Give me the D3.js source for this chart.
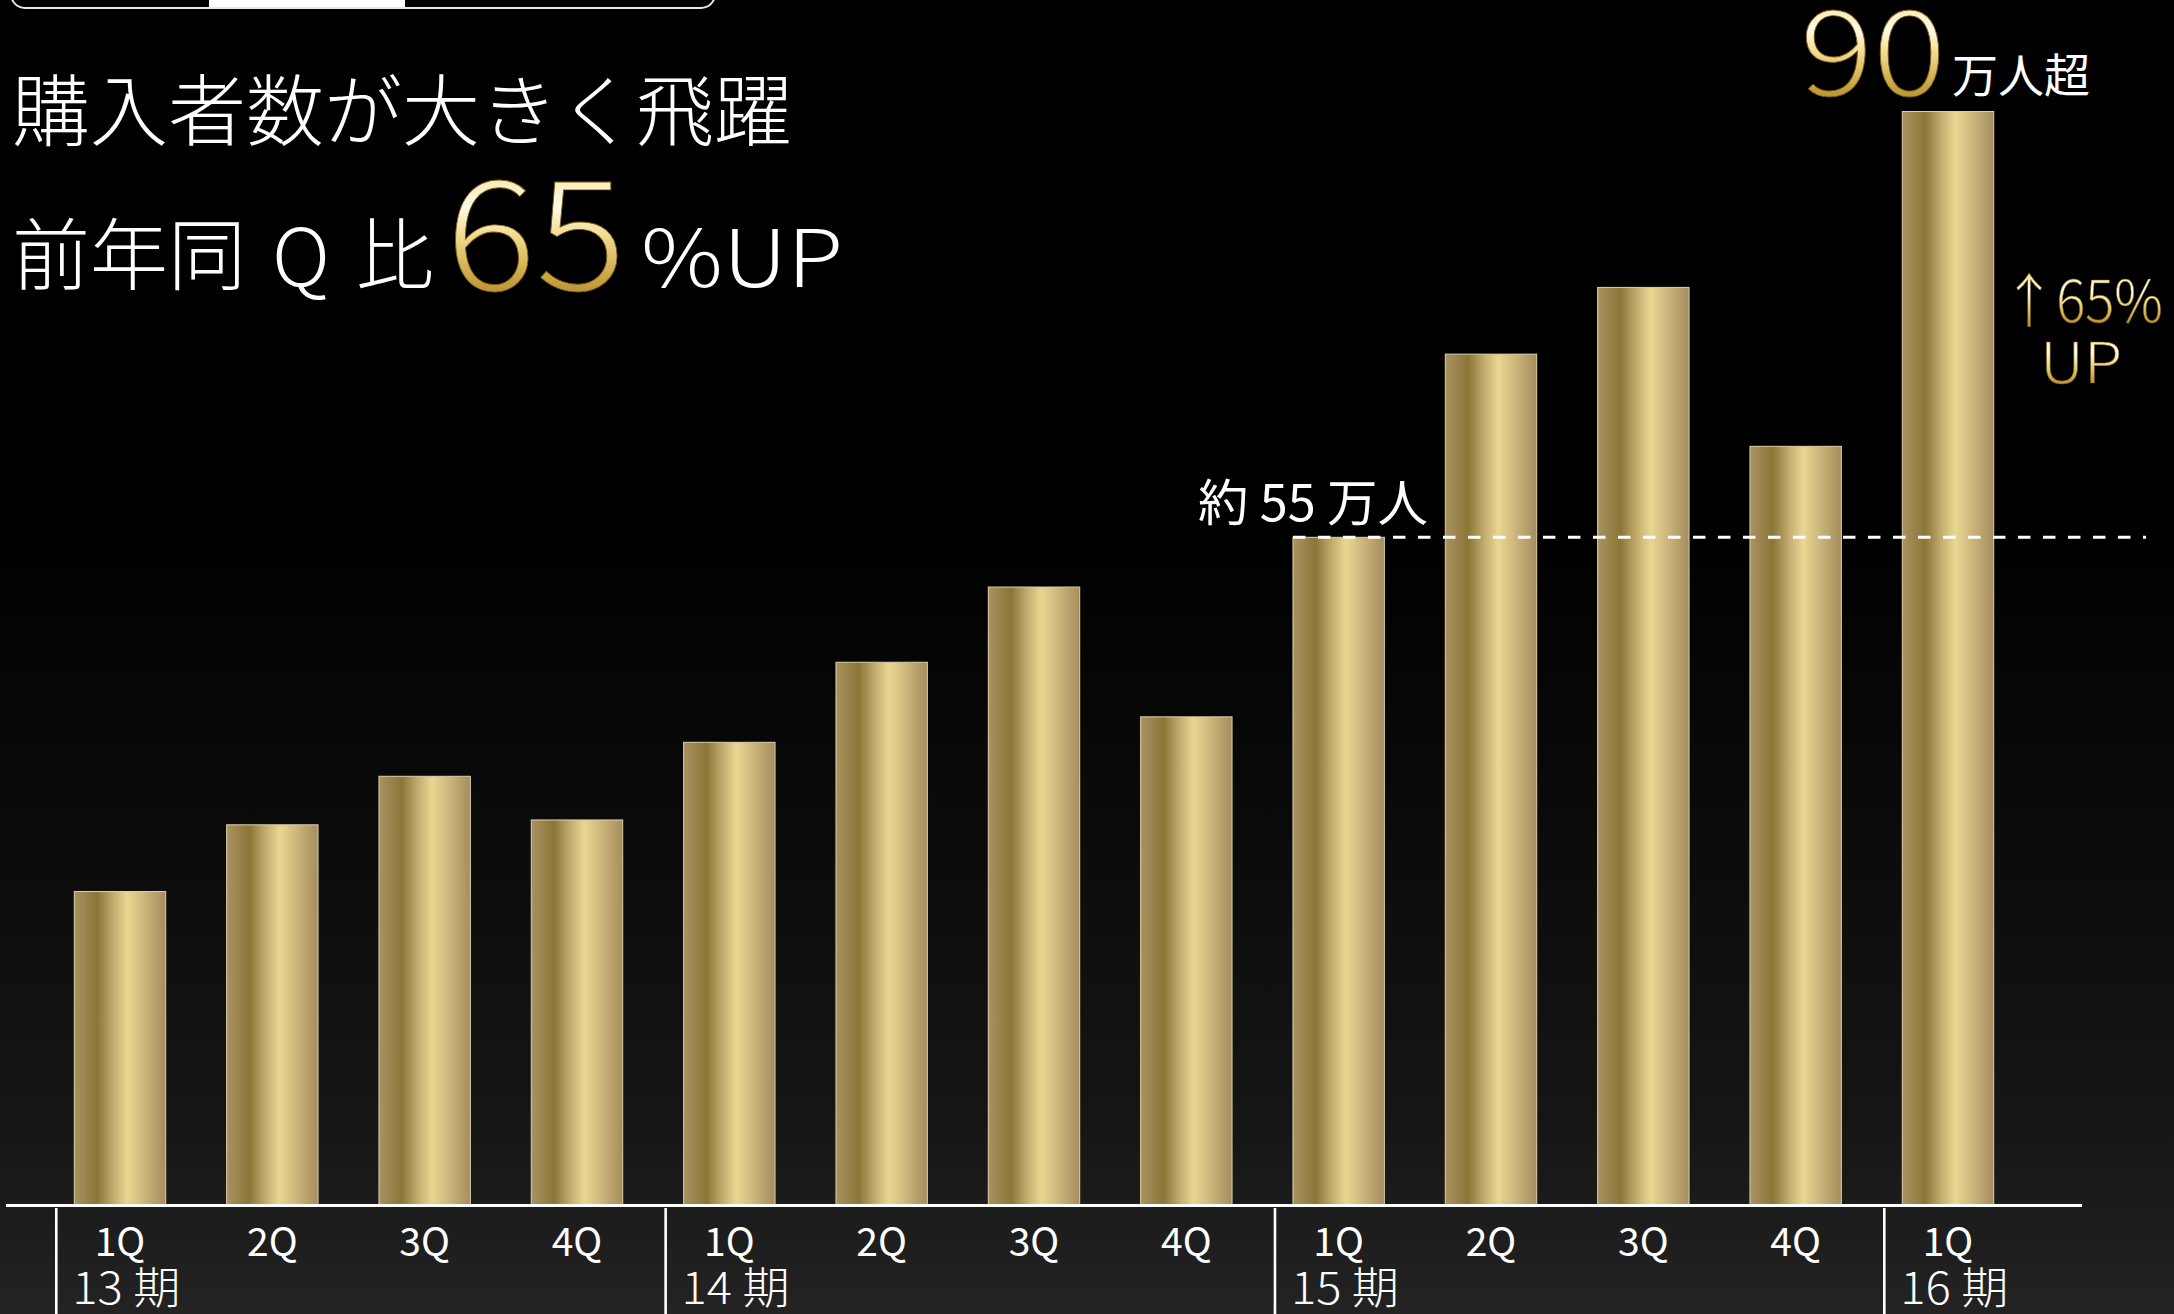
<!DOCTYPE html>
<html><head><meta charset="utf-8">
<script src="https://cdn.jsdelivr.net/npm/d3@7"></script>
<style>
html,body{margin:0;padding:0;background:#000;overflow:hidden;}
svg{display:block;}
</style></head>
<body>
<script>
// ---- data ----
const quarters = ["1Q","2Q","3Q","4Q","1Q","2Q","3Q","4Q","1Q","2Q","3Q","4Q","1Q"];
const buyers   = [25.8, 31.3, 35.3, 31.7, 38.1, 44.7, 50.9, 40.2, 55, 70.1, 75.6, 62.5, 90.1]; // 万人
const periods  = ["13 期","14 期","15 期","16 期"];
const periodStart = [0, 4, 8, 12];
const refValue = 55;
const refLabel = "約 55 万人";
const titleLine1 = "購入者数が大きく飛躍";
const growthPct = "65";

const W = 2174, H = 1314;
const svg = d3.select("body").append("svg").attr("width", W).attr("height", H);
const defs = svg.append("defs");

// background gradient
const bg = defs.append("linearGradient").attr("id","bg").attr("x1",0).attr("y1",0).attr("x2",0).attr("y2",1);
[[0,"#000"],[0.4,"#000"],[0.85,"#151515"],[1,"#232323"]].forEach(s=>bg.append("stop").attr("offset",s[0]).attr("stop-color",s[1]));
svg.append("rect").attr("width",W).attr("height",H).attr("fill","url(#bg)");

// bar gradient (horizontal metallic gold)
const bgr = defs.append("linearGradient").attr("id","barGold").attr("x1",0).attr("y1",0).attr("x2",1).attr("y2",0);
[[0,"#a8925f"],[0.1,"#9e8751"],[0.25,"#8b7537"],[0.44,"#c6b073"],[0.58,"#e9d791"],[0.72,"#d4be82"],[0.88,"#b9a16c"],[1,"#a48e5d"]]
  .forEach(s=>bgr.append("stop").attr("offset",s[0]).attr("stop-color",s[1]));

// gold text gradient (vertical)
const tg = defs.append("linearGradient").attr("id","textGold").attr("x1",0).attr("y1",0).attr("x2",0).attr("y2",1);
[[0,"#e3c860"],[0.2,"#f2df8c"],[0.42,"#fffbe8"],[0.55,"#f1dc8e"],[0.75,"#c9a340"],[1,"#8d6a1e"]]
  .forEach(s=>tg.append("stop").attr("offset",s[0]).attr("stop-color",s[1]));

// scales
const x = d3.scaleBand().domain(d3.range(quarters.length)).range([74.3, 1993.7]).paddingInner(0.4).paddingOuter(0);
const y = d3.scaleLinear().domain([0, refValue]).range([1204.5, 537.3]);

const font = "'Noto Sans CJK JP','Noto Sans',sans-serif";

// top tab bar decoration
svg.append("rect").attr("x",11).attr("y",-30).attr("width",704).attr("height",38).attr("rx",14)
  .attr("fill","none").attr("stroke","#e8e8e8").attr("stroke-width",2);
svg.append("rect").attr("x",209).attr("y",-2).attr("width",196).attr("height",9).attr("fill","#fff");

// bars
svg.append("g").selectAll("rect").data(buyers).join("rect")
  .attr("x",(d,i)=>x(i)).attr("width",x.bandwidth())
  .attr("y",d=>y(d)).attr("height",d=>y(0)-y(d))
  .attr("fill","url(#barGold)").attr("stroke","#ddd1ab").attr("stroke-width",1);

// reference dashed line
svg.append("line").attr("x1", x(8)).attr("x2", 2146)
  .attr("y1", y(refValue)).attr("y2", y(refValue))
  .attr("stroke","#fff").attr("stroke-width",3).attr("stroke-dasharray","12.5,12.5");
svg.append("text").attr("x", 1198).attr("y", y(refValue)-16)
  .attr("textLength",230).attr("lengthAdjust","spacingAndGlyphs")
  .attr("font-family",font).attr("font-size",50).attr("fill","#fff").text(refLabel);

// x axis line
svg.append("line").attr("x1",6).attr("x2",2082).attr("y1",1205.5).attr("y2",1205.5)
  .attr("stroke","#fff").attr("stroke-width",2.8);

// quarter labels
svg.append("g").selectAll("text").data(quarters).join("text")
  .attr("x",(d,i)=>x(i)+x.bandwidth()/2).attr("y",1256)
  .attr("text-anchor","middle").attr("font-family",font).attr("font-size",39)
  .attr("fill","#fff").text(d=>d);

// period separators and labels
svg.append("g").selectAll("line").data(periodStart).join("line")
  .attr("x1",d=>x(d)-18).attr("x2",d=>x(d)-18).attr("y1",1208).attr("y2",H)
  .attr("stroke","#fff").attr("stroke-width",2.6);
svg.append("g").selectAll("text").data(periods).join("text")
  .attr("x",(d,i)=>x(periodStart[i])-2).attr("y",1304)
  .attr("textLength",108).attr("lengthAdjust","spacingAndGlyphs")
  .attr("font-family",font).attr("font-weight",300).attr("font-size",44)
  .attr("fill","#fff").text(d=>d);

// title
svg.append("text").attr("x",12).attr("y",140).attr("font-family",font).attr("font-weight",300)
  .attr("font-size",78).attr("fill","#fff").text(titleLine1);
const l2 = svg.append("g").attr("font-family",font).attr("font-weight",300).attr("fill","#fff");
l2.append("text").attr("x",12).attr("y",284).attr("font-size",78).text("前年同");
l2.append("text").attr("x",272).attr("y",286).attr("font-size",80)
  .attr("textLength",58).attr("lengthAdjust","spacingAndGlyphs").text("Q");
l2.append("text").attr("x",356).attr("y",284).attr("font-size",78).text("比");
l2.append("text").attr("x",446).attr("y",290).attr("font-size",152).attr("fill","url(#textGold)")
  .attr("textLength",180).attr("lengthAdjust","spacingAndGlyphs")
  .attr("stroke","#7a5a18").attr("stroke-width",0.8).text(growthPct);
l2.append("text").attr("x",641).attr("y",287).attr("font-size",80)
  .attr("textLength",202).attr("lengthAdjust","spacingAndGlyphs").text("%UP");

// 90万人超 annotation
svg.append("text").attr("x",1800).attr("y",95).attr("font-family",font).attr("font-weight",300)
  .attr("font-size",118).attr("fill","url(#textGold)").attr("stroke","#7a5a18").attr("stroke-width",0.8)
  .attr("textLength",146).attr("lengthAdjust","spacingAndGlyphs")
  .text(String(Math.floor(buyers[buyers.length-1])));
svg.append("text").attr("x",1952).attr("y",92).attr("font-family",font)
  .attr("font-size",46).attr("fill","#fff").text("万人超");

// ↑65% UP annotation
svg.append("text").attr("x",2002).attr("y",322).attr("font-family",font).attr("font-weight",300)
  .attr("font-size",58).attr("fill","url(#textGold)").attr("stroke","#7a5a18").attr("stroke-width",0.5)
  .attr("textLength",161).attr("lengthAdjust","spacingAndGlyphs")
  .text("↑" + growthPct + "%");
svg.append("text").attr("x",2040).attr("y",383).attr("font-family",font).attr("font-weight",300)
  .attr("font-size",56).attr("fill","url(#textGold)").attr("stroke","#7a5a18").attr("stroke-width",0.5)
  .attr("textLength",82).attr("lengthAdjust","spacingAndGlyphs")
  .text("UP");
</script>
</body></html>
